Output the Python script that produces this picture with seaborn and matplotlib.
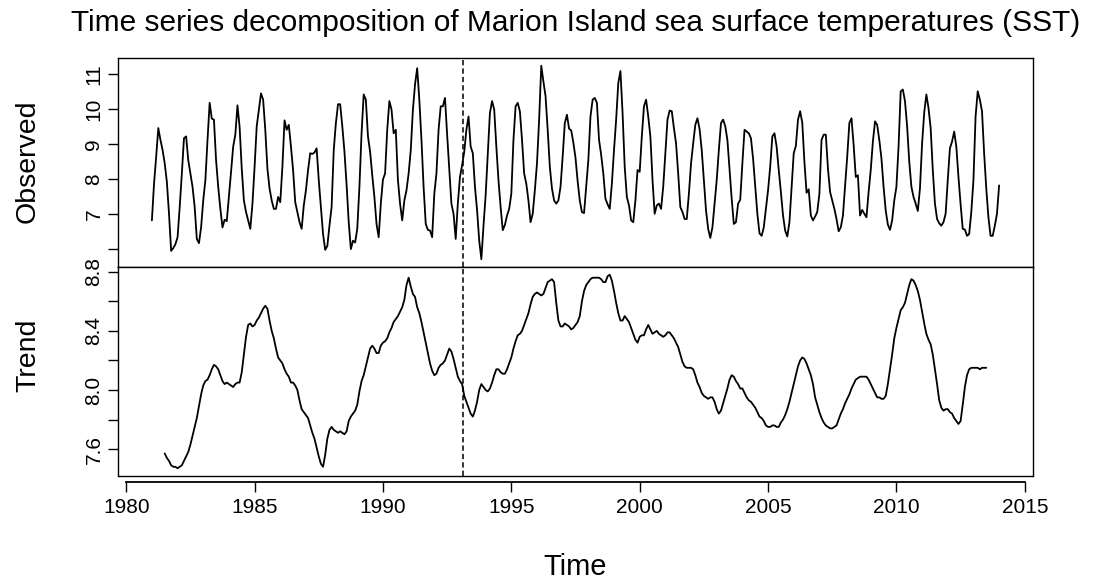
import numpy as np
import pandas as pd
import matplotlib
matplotlib.use("Agg")
import matplotlib.pyplot as plt
import seaborn as sns

# ---------------- data ----------------
obs_start = 1981.0          # first month of observed series
trend_start = 1981.5        # first month with a trend value (centred 12-month MA)
freq = 12

observed = [
    6.83, 7.88, 8.65, 9.47, 9.13, 8.84, 8.46, 7.93, 7.02, 5.96, 6.04, 6.15,
    6.35, 7.21, 8.17, 9.18, 9.23, 8.55, 8.17, 7.79, 7.21, 6.30, 6.18, 6.63,
    7.40, 7.98, 9.13, 10.19, 9.74, 9.71, 8.55, 7.79, 7.16, 6.63, 6.85, 6.81,
    7.50, 8.22, 8.94, 9.28, 10.12, 9.50, 8.31, 7.40, 7.07, 6.83, 6.59, 7.30,
    8.36, 9.52, 10.00, 10.46, 10.28, 9.42, 8.31, 7.74, 7.40, 7.16, 7.16, 7.50,
    7.35, 8.36, 9.69, 9.42, 9.56, 8.94, 8.27, 7.35, 7.07, 6.78, 6.59, 7.26,
    7.69, 8.27, 8.75, 8.73, 8.77, 8.89, 7.98, 7.21, 6.44, 5.99, 6.10, 6.68,
    7.21, 8.84, 9.61, 10.15, 10.15, 9.52, 8.80, 7.86, 6.78, 6.01, 6.25, 6.20,
    6.59, 7.79, 9.32, 10.43, 10.28, 9.23, 8.79, 8.12, 7.50, 6.73, 6.35, 7.31,
    8.00, 8.17, 9.42, 10.24, 10.00, 9.32, 9.42, 7.98, 7.31, 6.83, 7.40, 7.69,
    8.17, 8.84, 9.99, 10.72, 11.18, 10.28, 9.13, 7.79, 6.73, 6.56, 6.54, 6.35,
    7.59, 8.17, 9.42, 10.09, 10.09, 10.33, 9.28, 8.31, 7.31, 7.02, 6.30, 7.31,
    8.07, 8.41, 8.79, 9.42, 9.80, 8.94, 8.75, 7.79, 7.12, 6.25, 5.72, 6.68,
    7.55, 8.75, 9.90, 10.24, 10.00, 8.94, 7.98, 7.21, 6.55, 6.70, 6.97, 7.16,
    7.59, 9.13, 10.09, 10.19, 9.95, 9.13, 8.17, 7.88, 7.40, 6.78, 7.02, 7.69,
    8.46, 9.71, 11.25, 10.80, 10.38, 9.42, 8.36, 7.74, 7.40, 7.31, 7.40, 7.79,
    8.65, 9.61, 9.85, 9.45, 9.40, 9.05, 8.62, 7.95, 7.40, 7.07, 7.04, 7.79,
    8.55, 9.80, 10.28, 10.33, 10.19, 9.13, 8.70, 8.17, 7.45, 7.29, 7.16, 7.88,
    8.84, 9.71, 10.76, 11.10, 9.90, 8.36, 7.50, 7.26, 6.83, 6.78, 7.40, 8.27,
    8.22, 9.23, 10.09, 10.28, 9.80, 9.23, 7.98, 7.02, 7.26, 7.31, 7.16, 7.79,
    8.75, 9.71, 9.97, 9.95, 9.47, 9.03, 8.17, 7.21, 7.07, 6.87, 6.87, 7.59,
    8.46, 9.03, 9.56, 9.75, 9.44, 8.84, 7.98, 7.12, 6.59, 6.33, 6.63, 7.31,
    7.98, 8.84, 9.61, 9.71, 9.52, 9.13, 8.27, 7.45, 6.73, 6.78, 7.31, 7.42,
    8.46, 9.42, 9.37, 9.32, 9.18, 8.60, 7.79, 7.02, 6.46, 6.39, 6.63, 7.16,
    7.69, 8.36, 9.23, 9.32, 8.94, 8.27, 7.64, 6.97, 6.54, 6.37, 6.78, 7.79,
    8.75, 8.96, 9.71, 9.95, 9.62, 8.50, 7.62, 7.72, 6.97, 6.83, 6.94, 7.07,
    7.59, 9.13, 9.28, 9.28, 8.31, 7.64, 7.40, 7.16, 6.87, 6.52, 6.63, 6.97,
    7.79, 8.65, 9.61, 9.75, 8.99, 8.07, 8.12, 6.97, 7.13, 7.02, 6.92, 7.64,
    8.27, 9.08, 9.66, 9.56, 9.13, 8.60, 7.79, 7.11, 6.71, 6.56, 6.83, 7.40,
    7.79, 8.94, 10.52, 10.57, 10.24, 9.52, 8.51, 7.79, 7.50, 7.31, 7.10, 7.74,
    9.03, 9.92, 10.43, 10.04, 9.47, 8.27, 7.31, 6.87, 6.75, 6.68, 6.78, 7.02,
    7.98, 8.89, 9.08, 9.37, 8.94, 8.07, 7.29, 6.59, 6.57, 6.39, 6.44, 7.07,
    7.98, 9.80, 10.52, 10.28, 9.95, 8.75, 7.74, 6.92, 6.39, 6.39, 6.68, 7.02,
    7.83,
]

trend = [
    7.57, 7.54, 7.52, 7.49, 7.48, 7.48, 7.47, 7.48, 7.49, 7.52, 7.55, 7.58,
    7.63, 7.69, 7.75, 7.81, 7.89, 7.97, 8.03, 8.06, 8.07, 8.10, 8.14, 8.17,
    8.16, 8.14, 8.10, 8.06, 8.04, 8.05, 8.04, 8.03, 8.02, 8.04, 8.05, 8.05,
    8.12, 8.24, 8.36, 8.44, 8.45, 8.43, 8.44, 8.47, 8.49, 8.52, 8.55, 8.57,
    8.55, 8.47, 8.40, 8.35, 8.28, 8.22, 8.20, 8.18, 8.14, 8.11, 8.09, 8.05,
    8.05, 8.03, 8.00, 7.93, 7.87, 7.85, 7.83, 7.81, 7.76, 7.71, 7.67, 7.61,
    7.55, 7.50, 7.48, 7.56, 7.67, 7.73, 7.75, 7.73, 7.72, 7.71, 7.72, 7.71,
    7.70, 7.72, 7.79, 7.82, 7.84, 7.86, 7.90, 7.99, 8.06, 8.10, 8.16, 8.22,
    8.28, 8.30, 8.28, 8.25, 8.25, 8.30, 8.32, 8.33, 8.35, 8.39, 8.42, 8.46,
    8.48, 8.50, 8.53, 8.56, 8.61, 8.71, 8.76, 8.70, 8.65, 8.63, 8.56, 8.52,
    8.46, 8.39, 8.32, 8.25, 8.18, 8.13, 8.10, 8.11, 8.15, 8.17, 8.18, 8.20,
    8.24, 8.28, 8.26, 8.21, 8.15, 8.09, 8.06, 8.04, 7.96, 7.92, 7.88, 7.84,
    7.82, 7.86, 7.92, 8.00, 8.04, 8.02, 8.00, 7.99, 8.01, 8.05, 8.10, 8.14,
    8.14, 8.12, 8.11, 8.11, 8.14, 8.18, 8.22, 8.28, 8.33, 8.37, 8.38, 8.40,
    8.44, 8.48, 8.52, 8.58, 8.63, 8.65, 8.66, 8.65, 8.64, 8.65, 8.69, 8.73,
    8.74, 8.75, 8.73, 8.59, 8.47, 8.43, 8.43, 8.45, 8.44, 8.43, 8.41, 8.42,
    8.44, 8.46, 8.50, 8.60, 8.67, 8.71, 8.73, 8.75, 8.76, 8.76, 8.76, 8.76,
    8.75, 8.73, 8.73, 8.77, 8.78, 8.74, 8.67, 8.59, 8.52, 8.47, 8.47, 8.50,
    8.48, 8.46, 8.42, 8.38, 8.34, 8.32, 8.36, 8.37, 8.37, 8.41, 8.44, 8.41,
    8.38, 8.39, 8.40, 8.38, 8.37, 8.36, 8.37, 8.39, 8.39, 8.37, 8.35, 8.32,
    8.29, 8.24, 8.19, 8.16, 8.15, 8.15, 8.15, 8.14, 8.10, 8.05, 8.02, 7.98,
    7.96, 7.95, 7.94, 7.95, 7.95, 7.92, 7.87, 7.84, 7.86, 7.91, 7.96, 8.01,
    8.07, 8.10, 8.09, 8.06, 8.04, 8.01, 8.01, 7.98, 7.95, 7.93, 7.92, 7.90,
    7.88, 7.85, 7.82, 7.81, 7.79, 7.76, 7.75, 7.75, 7.76, 7.76, 7.75, 7.75,
    7.78, 7.80, 7.83, 7.87, 7.92, 7.98, 8.04, 8.10, 8.16, 8.20, 8.22, 8.21,
    8.18, 8.14, 8.10, 8.04, 7.95, 7.90, 7.85, 7.81, 7.78, 7.76, 7.75, 7.74,
    7.74, 7.75, 7.76, 7.80, 7.84, 7.87, 7.91, 7.94, 7.97, 8.01, 8.04, 8.07,
    8.08, 8.09, 8.09, 8.09, 8.09, 8.07, 8.04, 8.01, 7.98, 7.95, 7.95, 7.94,
    7.94, 7.96, 8.04, 8.14, 8.24, 8.35, 8.42, 8.48, 8.54, 8.56, 8.59, 8.65,
    8.71, 8.75, 8.74, 8.71, 8.67, 8.61, 8.53, 8.45, 8.38, 8.34, 8.31, 8.24,
    8.14, 8.04, 7.93, 7.88, 7.86, 7.87, 7.87, 7.85, 7.84, 7.81, 7.79, 7.77,
    7.79, 7.90, 8.02, 8.10, 8.14, 8.15, 8.15, 8.15, 8.15, 8.14, 8.15, 8.15,
    8.15,
]

break_year = 1993.1
x_ticks = [1980, 1985, 1990, 1995, 2000, 2005, 2010, 2015]
obs_ticks = [6, 7, 8, 9, 10, 11]
obs_tick_labels = ["", "7", "8", "9", "10", "11"]
trend_ticks = [7.6, 7.8, 8.0, 8.2, 8.4, 8.6, 8.8]
trend_tick_labels = ["7.6", "", "8.0", "", "8.4", "", "8.8"]

title = "Time series decomposition of Marion Island sea surface temperatures (SST)"

obs_df = pd.DataFrame({"time": obs_start + np.arange(len(observed)) / freq,
                       "value": observed})
trend_df = pd.DataFrame({"time": trend_start + np.arange(len(trend)) / freq,
                         "value": trend})

# ---------------- style ----------------
sns.set_theme(style="white")
plt.rcParams["font.family"] = ["Liberation Sans", "DejaVu Sans"]

W, H = 1107, 584
fig = plt.figure(figsize=(W / 100, H / 100), dpi=100)
left, right = 118, 1033
top1, mid, bot2 = 58, 267, 476
ax1 = fig.add_axes([left / W, 1 - mid / H, (right - left) / W, (mid - top1) / H])
ax2 = fig.add_axes([left / W, 1 - bot2 / H, (right - left) / W, (bot2 - mid) / H])


def rlim(v):
    lo, hi = min(v), max(v)
    pad = 0.04 * (hi - lo)
    return lo - pad, hi + pad


xlim = rlim(obs_df["time"])

panels = [
    (ax1, obs_df, obs_ticks, obs_tick_labels, "Observed", 161),
    (ax2, trend_df, trend_ticks, trend_tick_labels, "Trend", 355),
]
for ax, df, ticks, labels, name, label_y in panels:
    sns.lineplot(data=df, x="time", y="value", ax=ax, color="black",
                 linewidth=1.3, estimator=None, sort=False)
    ax.set_xlim(*xlim)
    ax.set_ylim(*rlim(df["value"]))
    ax.axvline(break_year, color="black", linewidth=1.1, linestyle=(0, (3.5, 2)))
    ax.set_yticks(ticks)
    ax.set_yticklabels(labels, rotation=90, va="center")
    ax.tick_params(axis="y", left=True, direction="out", length=7.5, width=1.0,
                   labelsize=15, pad=3, colors="black")
    for s in ax.spines.values():
        s.set_visible(True)
        s.set_color("black")
        s.set_linewidth(1.0)
    ax.set_xlabel("")
    ax.set_ylabel("")
    ax.grid(False)
    fig.text(28 / W, 1 - label_y / H, name, rotation=90, ha="center", va="center",
             fontsize=20.5, color="black")

ax1.set_xticks([])

# separate x axis line below the lower box (as in R)
ax2.set_xticks(x_ticks)
ax2.set_xticklabels([str(t) for t in x_ticks])
ax2.tick_params(axis="x", bottom=True, direction="out", length=7.5, width=1.0,
                labelsize=15, pad=4, colors="black")
ax2.spines["bottom"].set_position(("outward", 4.5))
ax2.spines["bottom"].set_bounds(x_ticks[0], x_ticks[-1])
ax2.spines["bottom"].set_linewidth(1.3)
ax2.axhline(ax2.get_ylim()[0], color="black", linewidth=1.0, clip_on=False)

fig.text(((left + right) / 2) / W, 1 - 23 / H, title, ha="center", va="center",
         fontsize=21.5, color="black")
fig.text(((left + right) / 2) / W, 1 - 567 / H, "Time", ha="center", va="center",
         fontsize=21, color="black")

fig.savefig("out.png", dpi=100)
